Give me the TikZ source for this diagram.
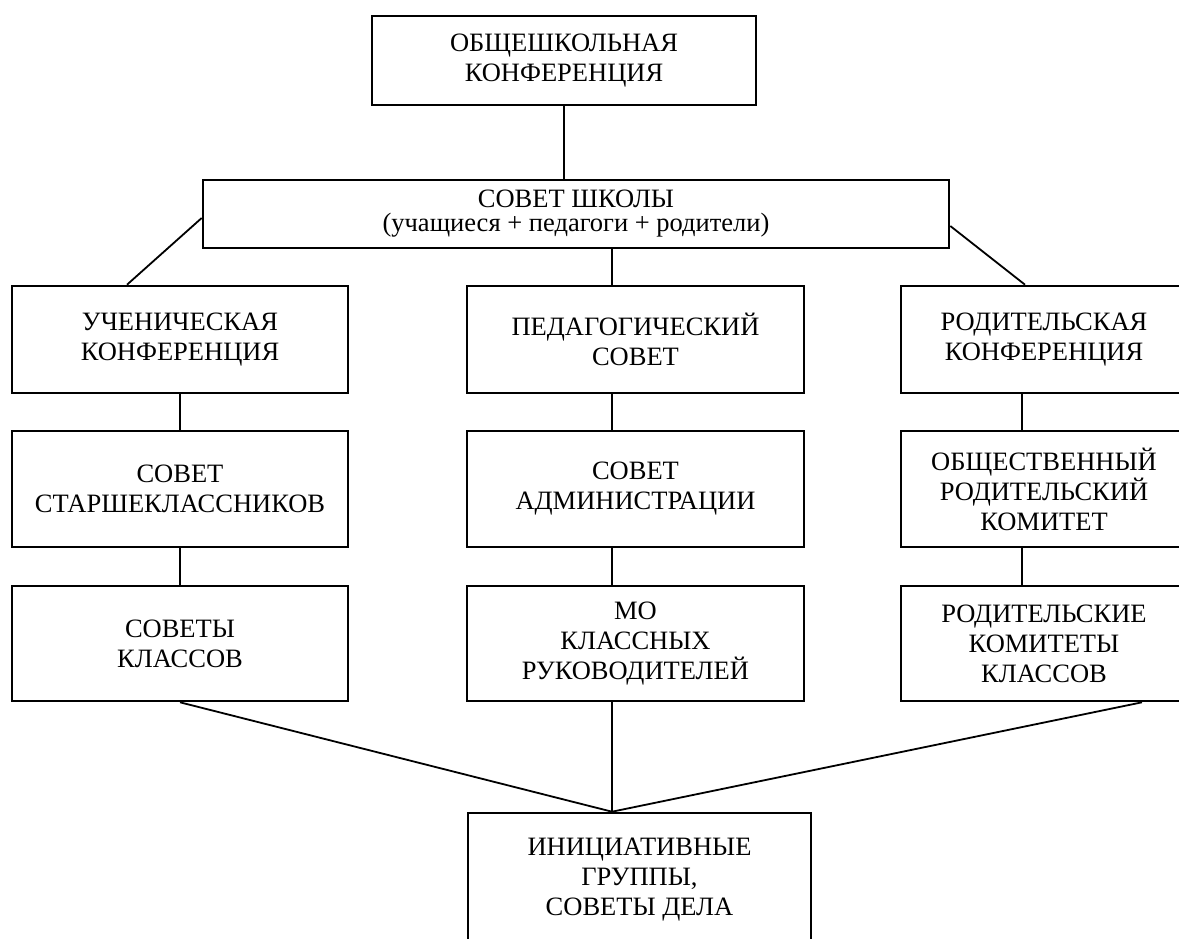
\documentclass[tikz,border=0pt]{standalone}
\usepackage{fontspec}
\setmainfont{Liberation Serif}
\usetikzlibrary{calc}
\begin{document}
\begin{tikzpicture}[x=1pt,y=-1pt,
  box/.style={draw, line width=2.6pt, inner sep=0pt, align=center, font=\fontsize{26.5}{30}\selectfont},
  conn/.style={line width=1.8pt}]
\useasboundingbox (0,0) rectangle (1179,938);
\clip (0,0) rectangle (1179,938);
% nodes
\node[box, minimum width=384pt, minimum height=89pt] (top) at (564,60.5) {ОБЩЕШКОЛЬНАЯ\\КОНФЕРЕНЦИЯ};
\node[box, minimum width=746pt, minimum height=68pt, font=\fontsize{26.5}{24}\selectfont] (council) at (576,214) {СОВЕТ ШКОЛЫ\\(учащиеся + педагоги + родители)};
% row 1
\node[box, minimum width=336pt, minimum height=107pt] (uch) at (180,339.5) {УЧЕНИЧЕСКАЯ\\КОНФЕРЕНЦИЯ};
\node[box, minimum width=337pt, minimum height=107pt] (ped) at (635.5,339.5) {ПЕДАГОГИЧЕСКИЙ\\СОВЕТ};
\node[box, minimum width=286pt, minimum height=107pt] (rod) at (1044,339.5) {РОДИТЕЛЬСКАЯ\\КОНФЕРЕНЦИЯ};
% row 2
\node[box, minimum width=336pt, minimum height=116pt] (sst) at (180,489) {СОВЕТ\\СТАРШЕКЛАССНИКОВ};
\node[box, minimum width=337pt, minimum height=116pt] (adm) at (635.5,489) {СОВЕТ\\АДМИНИСТРАЦИИ};
\node[box, minimum width=286pt, minimum height=116pt] (obs) at (1044,489) {ОБЩЕСТВЕННЫЙ\\РОДИТЕЛЬСКИЙ\\КОМИТЕТ};
% row 3
\node[box, minimum width=336pt, minimum height=115pt] (skl) at (180,643.5) {СОВЕТЫ\\КЛАССОВ};
\node[box, minimum width=337pt, minimum height=115pt] (mo) at (635.5,643.5) {МО\\КЛАССНЫХ\\РУКОВОДИТЕЛЕЙ};
\node[box, minimum width=286pt, minimum height=115pt] (rk) at (1044,643.5) {РОДИТЕЛЬСКИЕ\\КОМИТЕТЫ\\КЛАССОВ};
% bottom
\node[box, minimum width=343pt, minimum height=134pt] (ini) at (639.5,880) {ИНИЦИАТИВНЫЕ\\ГРУППЫ,\\СОВЕТЫ ДЕЛА};
% helper coordinates
\coordinate (mx) at (612,0);
\coordinate (lx) at (127,0);
\coordinate (rx) at (1022,0);
\coordinate (kx) at (1142,0);
\coordinate (rtx) at (1025,0);
\coordinate (ly) at (0,218);
\coordinate (ry) at (0,226);
% connectors
\draw[conn] (top.south) -- (top.south |- council.north);
\draw[conn] (council.west |- ly) -- (uch.north -| lx);
\draw[conn] (council.south -| mx) -- (ped.north -| mx);
\draw[conn] (council.east |- ry) -- (rod.north -| rtx);
\draw[conn] (uch.south) -- (sst.north);
\draw[conn] (sst.south) -- (skl.north);
\draw[conn] (ped.south -| mx) -- (adm.north -| mx);
\draw[conn] (adm.south -| mx) -- (mo.north -| mx);
\draw[conn] (rod.south -| rx) -- (obs.north -| rx);
\draw[conn] (obs.south -| rx) -- (rk.north -| rx);
\draw[conn] (skl.south) -- (ini.north -| mx);
\draw[conn] (mo.south -| mx) -- (ini.north -| mx);
\draw[conn] (rk.south -| kx) -- (ini.north -| mx);
\end{tikzpicture}
\end{document}
